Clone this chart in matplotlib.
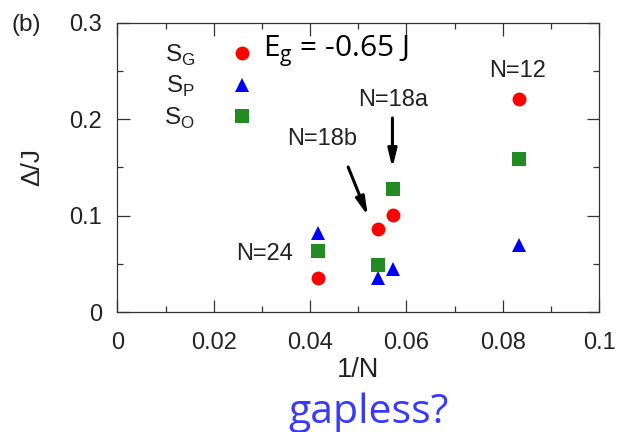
"""Gap vs inverse cluster size for the three spin sectors."""

import matplotlib

matplotlib.use("Agg")
import matplotlib.pyplot as plt
from matplotlib.lines import Line2D

plt.rcParams["font.family"] = ["Liberation Sans", "DejaVu Sans"]
plt.rcParams["mathtext.fontset"] = "custom"
plt.rcParams["mathtext.rm"] = "Liberation Sans"

# 1/N for each cluster (N=24, 18b, 18a, 12)
inv_n = [0.0416, 0.0540, 0.0572, 0.0834]
gap_sg = [0.0358, 0.0860, 0.1008, 0.2207]
gap_sp = [0.0822, 0.0352, 0.0445, 0.0697]
gap_so = [0.0638, 0.0490, 0.1274, 0.1588]

series_labels = ["S$_\\mathregular{G}$", "S$_\\mathregular{P}$", "S$_\\mathregular{O}$"]
x_ticks = [0, 0.02, 0.04, 0.06, 0.08, 0.1]
x_ticklabels = ["0", "0.02", "0.04", "0.06", "0.08", "0.1"]
y_ticks = [0, 0.1, 0.2, 0.3]
y_ticklabels = ["0", "0.1", "0.2", "0.3"]

RED, BLUE, GREEN = "#ff0000", "#0000ff", "#228b22"
INK = "#222222"

fig = plt.figure(figsize=(6.19, 4.32), dpi=100)
ax = fig.add_axes([0.1898, 0.2771, 0.7779, 0.6704])

ax.plot(inv_n, gap_sg, "o", color=RED, ms=10, mew=0)
ax.plot(inv_n, gap_sp, "^", color=BLUE, ms=10, mew=0)
ax.plot(inv_n, gap_so, "s", color=GREEN, ms=9.6, mew=0)

ax.set_xlim(0, 0.1)
ax.set_ylim(0, 0.3)
ax.set_xticks(x_ticks)
ax.set_xticklabels(x_ticklabels)
ax.set_yticks(y_ticks)
ax.set_yticklabels(y_ticklabels)
ax.set_xticks([0.01, 0.03, 0.05, 0.07, 0.09], minor=True)
ax.set_yticks([0.05, 0.15, 0.25], minor=True)
ax.tick_params(which="both", direction="in", top=True, right=True,
               width=0.9, color="#333333", labelcolor=INK, labelsize=17)
ax.tick_params(which="major", length=9)
ax.tick_params(which="minor", length=4.5)
ax.tick_params(axis="x", which="major", pad=14)
ax.tick_params(axis="y", which="major", pad=11)
for sp in ax.spines.values():
    sp.set_linewidth(0.9)
    sp.set_color("#333333")

ax.set_xlabel("1/N", fontsize=19.5, color=INK)
ax.xaxis.set_label_coords(0.5, -0.155)
ax.set_ylabel("Δ/J", fontsize=19, color=INK, va="center")
ax.yaxis.set_label_coords(-0.1765, 0.5)

# legend: label on the left, marker on the right
handles = [
    Line2D([], [], ls="", marker="o", color=RED, ms=10, mew=0),
    Line2D([], [], ls="", marker="^", color=BLUE, ms=10, mew=0),
    Line2D([], [], ls="", marker="s", color=GREEN, ms=9.6, mew=0),
]
ax.legend(handles, series_labels, loc="upper left",
          bbox_to_anchor=(0.097, 0.93), frameon=False, markerfirst=False,
          numpoints=1, fontsize=17.5, labelcolor=INK, handletextpad=0.95,
          labelspacing=0.25, borderpad=0, borderaxespad=0)

ax.text(0.0302, 0.2645, "E$_\\mathregular{g}$ = -0.65 J", family="Open Sans",
        fontsize=21.5, color="black", va="baseline", ha="left")

lbl = dict(fontsize=17, color=INK, ha="center", va="center")
ax.text(0.0831, 0.250, "N=12", **lbl)
ax.text(0.0306, 0.0604, "N=24", **lbl)
ax.text(0.0573, 0.220, "N=18a", **lbl)
ax.text(0.0425, 0.180, "N=18b", **lbl)

arrow = dict(arrowstyle="-|>,head_length=0.9,head_width=0.22", lw=2.2,
             color="black", mutation_scale=12, shrinkA=0, shrinkB=0)
ax.annotate("", xy=(0.0571, 0.1495), xytext=(0.0571, 0.2013), arrowprops=arrow)
ax.annotate("", xy=(0.0520, 0.0998), xytext=(0.0479, 0.1505), arrowprops=arrow)

fig.text(26 / 619, 1 - 25 / 432, "(b)", fontsize=17.5, color=INK,
         ha="center", va="center")
fig.text(369 / 619, 1 - 422.7 / 432, "gapless?", family="Open Sans",
         fontsize=29.5, color="#3838ff", ha="center", va="baseline")

fig.savefig("out.png", dpi=100)
